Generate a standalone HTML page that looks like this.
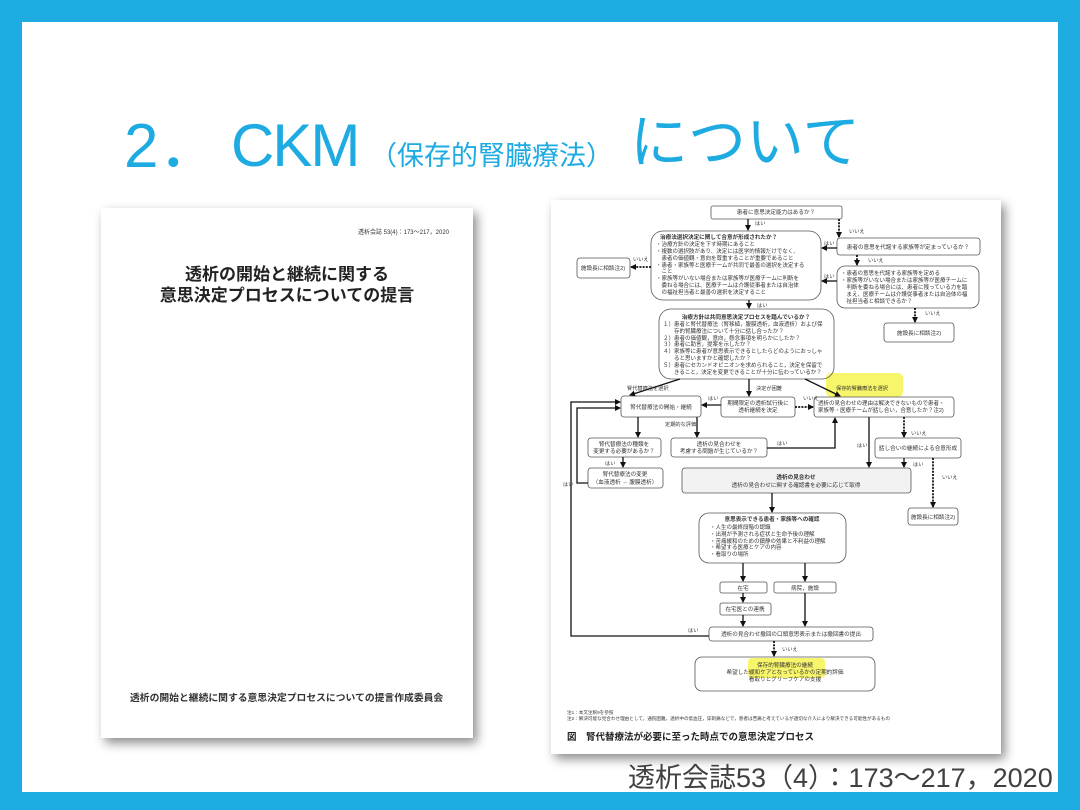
<!DOCTYPE html>
<html><head><meta charset="utf-8">
<style>
html,body{margin:0;padding:0}
body{width:1080px;height:810px;position:relative;background:#1EABE2;overflow:hidden;font-family:"Liberation Sans","Noto Sans CJK JP",sans-serif}
.inner{position:absolute;left:22px;top:22px;width:1036px;height:770px;background:#fff}
.t{position:absolute;color:#1EABE2;font-family:"Liberation Sans","Noto Sans CJK JP",sans-serif;white-space:nowrap;line-height:1}
.card{position:absolute;background:#fff;box-shadow:4px 5px 10px rgba(0,0,0,.45)}
svg{position:absolute;left:0;top:0}
</style></head><body>
<div class="inner"></div>
<div class="t" style="left:124px;top:116px;font-size:62px">2．</div>
<div class="t" style="left:231px;top:116px;font-size:60px;letter-spacing:-2px">CKM</div>
<div class="t" style="left:370px;top:143px;font-size:27px">（保存的腎臓療法）</div>
<div class="t" style="left:630px;top:114px;font-size:58px">について</div>

<div class="card" style="left:101px;top:208px;width:372px;height:530px">
  <div style="position:absolute;right:24px;top:19px;font-size:6px;color:#333">透析会誌 53(4)：173～217，2020</div>
  <div style="position:absolute;left:0;width:372px;top:56px;text-align:center;font-size:17px;font-weight:bold;color:#222;line-height:21px">透析の開始と継続に関する<br>意思決定プロセスについての提言</div>
  <div style="position:absolute;left:29px;top:482px;font-size:9.8px;font-weight:bold;color:#333;white-space:nowrap">透析の開始と継続に関する意思決定プロセスについての提言作成委員会</div>
</div>
<div class="card" style="left:551px;top:200px;width:450px;height:554px"></div>

<div style="position:absolute;left:628px;top:756px;font-size:27px;color:#404040;white-space:nowrap;font-family:'Liberation Sans','Noto Sans CJK JP',sans-serif">透析会誌53（4）：173～217，2020</div>

<svg width="1080" height="810" viewBox="0 0 1080 810" font-family="Liberation Sans, Noto Sans CJK JP, sans-serif" font-size="5.6" fill="#333">
<defs><marker id="a" markerWidth="6" markerHeight="6" refX="5" refY="3" orient="auto" markerUnits="userSpaceOnUse"><path d="M0,0 L6,3 L0,6z" fill="#111"/></marker></defs>
<rect x="826" y="373" width="77" height="24" rx="5" fill="#f7f56a"/>
<rect x="748" y="658" width="77" height="20" rx="4" fill="#f7f56a"/>
<g fill="none" stroke="#555" stroke-width="0.8">
<rect x="711" y="206" width="131" height="13" rx="2"/>
<rect x="651" y="231" width="170" height="69" rx="12"/>
<rect x="837" y="238" width="143" height="17" rx="3"/>
<rect x="837" y="266" width="142" height="42" rx="8"/>
<rect x="884" y="323" width="70" height="19" rx="3"/>
<rect x="577" y="258" width="53" height="20" rx="3"/>
<rect x="659" y="309" width="175" height="70" rx="12"/>
<rect x="621" y="396" width="80" height="21" rx="3"/>
<rect x="721" y="397" width="74" height="20" rx="3"/>
<rect x="814" y="397" width="140" height="20" rx="3"/>
<rect x="588" y="438" width="73" height="19" rx="3"/>
<rect x="671" y="438" width="96" height="19" rx="3"/>
<rect x="588" y="468" width="75" height="20" rx="3"/>
<rect x="875" y="438" width="86" height="20" rx="3"/>
<rect x="908" y="508" width="50" height="17" rx="3"/>
<rect x="682" y="468" width="229" height="25" rx="3" fill="#f2f2f2"/>
<rect x="699" y="513" width="147" height="50" rx="10"/>
<rect x="720" y="582" width="47" height="11" rx="2"/>
<rect x="774" y="582" width="62" height="11" rx="2"/>
<rect x="720" y="603" width="51" height="12" rx="2"/>
<rect x="709" y="627" width="164" height="14" rx="3"/>
<rect x="695" y="657" width="180" height="34" rx="7"/>
</g>
<g stroke="#111" stroke-width="1.3" fill="none" marker-end="url(#a)">
<path d="M748 219V230"/>
<path d="M837 248H822"/>
<path d="M837 281H822"/>
<path d="M749 300V308"/>
<path d="M680 379L630 395"/>
<path d="M749 379V396"/>
<path d="M805 379L840 396"/>
<path d="M721 405H702"/>
<path d="M638 417V437"/>
<path d="M697 417V437"/>
<path d="M767 448H835V418"/>
<path d="M623 457V467"/>
<path d="M588 483H577V408H620"/>
<path d="M869 417V467"/>
<path d="M904 458V467"/>
<path d="M772 493V512"/>
<path d="M743 563V581"/>
<path d="M805 563V581"/>
<path d="M743 593V602"/>
<path d="M743 615V626"/>
<path d="M805 593V626"/>
<path d="M709 636H571V402H620"/>
</g>
<g stroke="#111" stroke-width="1.8" fill="none" stroke-dasharray="2,1.2" marker-end="url(#a)">
<path d="M839 219V237"/>
<path d="M857 255V265"/>
<path d="M915 308V322"/>
<path d="M651 267H631"/>
<path d="M795 407H813"/>
<path d="M904 417V437"/>
<path d="M933 458V507"/>
<path d="M774 641V656"/>
</g>
<g font-size="5.2">
<text x="755" y="225">はい</text><text x="849" y="233">いいえ</text><text x="824" y="245">はい</text>
<text x="868" y="262">いいえ</text><text x="824" y="278">はい</text><text x="925" y="315">いいえ</text>
<text x="633" y="261">いいえ</text><text x="757" y="307">はい</text>
<text x="627" y="390">腎代替療法を選択</text><text x="756" y="390">決定が困難</text><text x="836" y="390">保存的腎臓療法を選択</text>
<text x="708" y="400">はい</text><text x="803" y="400">いいえ</text><text x="665" y="426">定期的な評価</text>
<text x="777" y="445">はい</text><text x="605" y="465">はい</text><text x="563" y="486">はい</text>
<text x="857" y="447">はい</text><text x="911" y="435">いいえ</text><text x="913" y="466">はい</text><text x="942" y="479">いいえ</text>
<text x="688" y="632">はい</text><text x="782" y="651">いいえ</text>
</g>
<g text-anchor="middle">
<text x="776" y="214">患者に意思決定能力はあるか？</text>
<text x="908" y="249">患者の意思を代諾する家族等が定まっているか？</text>
<text x="919" y="335">施設長に相談注2)</text>
<text x="603" y="270">施設長に相談注2)</text>
<text x="746" y="319" font-weight="bold">治療方針は共同意思決定プロセスを踏んでいるか？</text>
<text x="661" y="409">腎代替療法の開始・継続</text>
<text x="758" y="405">期間限定の透析試行後に</text><text x="758" y="412">透析継続を決定</text>
<text x="624" y="446">腎代替療法の種類を</text><text x="624" y="453">変更する必要があるか？</text>
<text x="719" y="446">透析の見合わせを</text><text x="719" y="453">考慮する問題が生じているか？</text>
<text x="625" y="476">腎代替療法の変更</text><text x="625" y="484">（血液透析 ⇔ 腹膜透析）</text>
<text x="918" y="450">話し合いの継続による合意形成</text>
<text x="933" y="519">施設長に相談注2)</text>
<text x="796" y="479" font-weight="bold">透析の見合わせ</text>
<text x="796" y="487">透析の見合わせに関する確認書を必要に応じて取得</text>
<text x="772" y="521" font-weight="bold">意思表示できる患者・家族等への確認</text>
<text x="743" y="590">在宅</text><text x="805" y="590">病院，施設</text>
<text x="745" y="611">在宅医との連携</text>
<text x="791" y="636">透析の見合わせ撤回の口頭意思表示または撤回書の提出</text>
<text x="785" y="667">保存的腎臓療法の継続</text>
<text x="785" y="674">希望した緩和ケアとなっているかの定期的評価</text>
<text x="785" y="681">看取りとグリーフケアの支援</text>
</g>
<text x="660" y="239" font-weight="bold">治療法選択決定に関して合意が形成されたか？</text>
<g font-size="5.5">
<text x="656" y="246">・治療方針の決定を下す時期にあること</text>
<text x="656" y="253">・複数の選択肢があり、決定には医学的情報だけでなく、</text>
<text x="656" y="260">　患者の価値観・意向を尊重することが重要であること</text>
<text x="656" y="267">・患者・家族等と医療チームが共同で最善の選択を決定する</text>
<text x="656" y="273">　こと</text>
<text x="656" y="280">・家族等がいない場合または家族等が医療チームに判断を</text>
<text x="656" y="287">　委ねる場合には、医療チームは介護従事者または自治体</text>
<text x="656" y="294">　の福祉担当者と最善の選択を決定すること</text>
<text x="841" y="275">・患者の意思を代諾する家族等を定める</text>
<text x="841" y="282">・家族等がいない場合または家族等が医療チームに</text>
<text x="841" y="289">　判断を委ねる場合には、患者に残っている力を踏</text>
<text x="841" y="296">　まえ、医療チームは介護従事者または自治体の福</text>
<text x="841" y="303">　祉担当者と相談できるか？</text>
<text x="663" y="326">１）患者と腎代替療法（腎移植，腹膜透析，血液透析）および保</text>
<text x="663" y="333">　　存的腎臓療法について十分に話し合ったか？</text>
<text x="663" y="340">２）患者の価値観，意向，懸念事項を明らかにしたか？</text>
<text x="663" y="346">３）患者に助言，提案を示したか？</text>
<text x="663" y="353">４）家族等に患者が意思表示できるとしたらどのようにおっしゃ</text>
<text x="663" y="360">　　ると思いますかと確認したか？</text>
<text x="663" y="367">５）患者にセカンドオピニオンを求められること，決定を保留で</text>
<text x="663" y="374">　　きること，決定を変更できることが十分に伝わっているか？</text>
<text x="710" y="529">・人生の最終段階の認識</text>
<text x="710" y="536">・出現が予測される症状と生命予後の理解</text>
<text x="710" y="543">・苦痛緩和のための鎮静の効果と不利益の理解</text>
<text x="710" y="549">・希望する医療とケアの内容</text>
<text x="710" y="556">・看取りの場所</text>
<text x="818" y="405">透析の見合わせの理由は解決できないもので患者・</text>
<text x="818" y="412">家族等・医療チームが話し合い，合意したか？注2)</text>
</g>
<g font-size="4.6">
<text x="567" y="714">注1：本文注釈9を参照</text>
<text x="567" y="720">注2：解決可能な見合わせ理由として，通院困難，透析中の低血圧，穿刺痛などで，患者は苦痛と考えているが適切な介入により解決できる可能性があるもの</text>
</g>
<text x="567" y="740" font-size="9.5" font-weight="bold" fill="#222">図　腎代替療法が必要に至った時点での意思決定プロセス</text>
</svg>
</body></html>
